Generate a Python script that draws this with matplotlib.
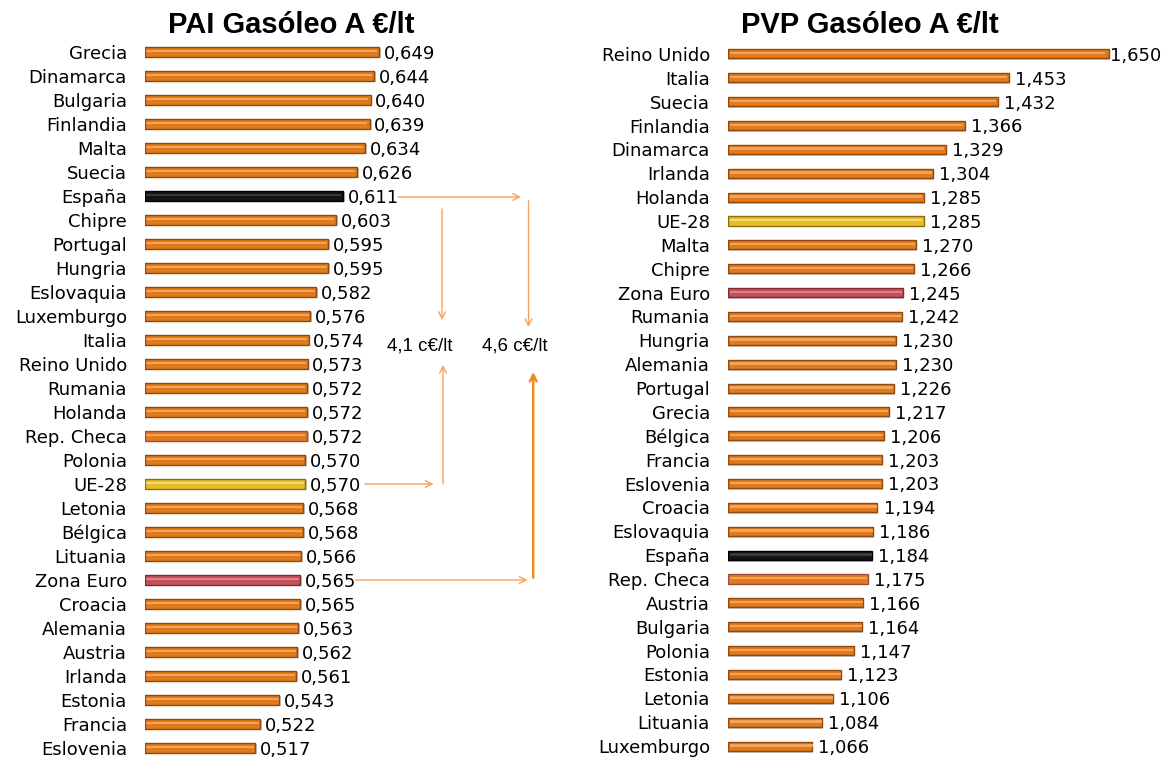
import matplotlib
matplotlib.use("Agg")
import matplotlib.pyplot as plt
import numpy as np

plt.rcParams['font.family'] = ['DejaVu Sans']

# PAI (precio antes de impuestos)
pai_paises = ['Grecia', 'Dinamarca', 'Bulgaria', 'Finlandia', 'Malta', 'Suecia', 'España',
              'Chipre', 'Portugal', 'Hungria', 'Eslovaquia', 'Luxemburgo', 'Italia',
              'Reino Unido', 'Rumania', 'Holanda', 'Rep. Checa', 'Polonia', 'UE-28',
              'Letonia', 'Bélgica', 'Lituania', 'Zona Euro', 'Croacia', 'Alemania',
              'Austria', 'Irlanda', 'Estonia', 'Francia', 'Eslovenia']
pai_valores = [0.649, 0.644, 0.640, 0.639, 0.634, 0.626, 0.611, 0.603, 0.595, 0.595,
               0.582, 0.576, 0.574, 0.573, 0.572, 0.572, 0.572, 0.570, 0.570, 0.568,
               0.568, 0.566, 0.565, 0.565, 0.563, 0.562, 0.561, 0.543, 0.522, 0.517]

# PVP (precio de venta al publico)
pvp_paises = ['Reino Unido', 'Italia', 'Suecia', 'Finlandia', 'Dinamarca', 'Irlanda',
              'Holanda', 'UE-28', 'Malta', 'Chipre', 'Zona Euro', 'Rumania', 'Hungria',
              'Alemania', 'Portugal', 'Grecia', 'Bélgica', 'Francia', 'Eslovenia',
              'Croacia', 'Eslovaquia', 'España', 'Rep. Checa', 'Austria', 'Bulgaria',
              'Polonia', 'Estonia', 'Letonia', 'Lituania', 'Luxemburgo']
pvp_valores = [1.650, 1.453, 1.432, 1.366, 1.329, 1.304, 1.285, 1.285, 1.270, 1.266,
               1.245, 1.242, 1.230, 1.230, 1.226, 1.217, 1.206, 1.203, 1.203, 1.194,
               1.186, 1.184, 1.175, 1.166, 1.164, 1.147, 1.123, 1.106, 1.084, 1.066]

# colores: (relleno, borde, brillo)
naranja = ('#E07A1C', '#8E4A10', '#F3A45A')
especiales = {
    'España': ('#141414', '#000000', '#3A3A3A'),
    'UE-28': ('#E8BC2A', '#8A7012', '#F6DC70'),
    'Zona Euro': ('#C4505A', '#7E2A30', '#DE8088'),
    'Rep. Checa': ('#E07A1C', '#A0503A', '#F3A45A'),
}

W, H = 1162, 760
fig = plt.figure(figsize=(W / 100, H / 100), dpi=100)


def px_axes(x0, top, width, height):
    return fig.add_axes([x0 / W, 1 - (top + height) / H, width / W, height / H])


def barras(ax, paises, valores, xmin, xmax, dx, borde=None):
    y = np.arange(len(paises))
    cols = [especiales.get(p, naranja) for p in paises]
    anchos = np.array(valores) - xmin
    # sombra
    ax.barh(y + 0.06, anchos + 0.002, left=xmin, height=0.42, color='#C8C8C8', zorder=1)
    ax.barh(y, anchos, left=xmin, height=0.38, color=[c[0] for c in cols],
            edgecolor=[c[1] for c in cols], linewidth=1.0, zorder=2)
    ax.barh(y - 0.03, anchos * 0.985, left=xmin + 0.004 * (xmax - xmin), height=0.1,
            color=[c[2] for c in cols], zorder=3)
    for yi, v in zip(y, valores):
        off = dx
        if borde is not None and v + dx > borde:
            off = 0.002  # pegada a la barra para que quepa
        ax.text(v + off, yi + 0.08, f'{v:.3f}'.replace('.', ','), va='center', ha='left',
                fontsize=13, color='black', zorder=4)
    ax.set_xlim(xmin, xmax)
    ax.set_ylim(len(paises) - 0.5, -0.5)
    ax.set_yticks(y)
    ax.set_yticklabels(paises, fontsize=13)
    ax.tick_params(axis='y', length=0, pad=13)
    ax.set_xticks([])
    for s in ax.spines.values():
        s.set_visible(False)
    ax.patch.set_alpha(0)


ax1 = px_axes(145, 40, 282, 720)
barras(ax1, pai_paises, pai_valores, 0.40, 0.70, 0.005)

ax2 = px_axes(728, 42, 432, 716)
barras(ax2, pvp_paises, pvp_valores, 0.90, 1.75, 0.012, borde=1.64)

fig.text(291 / W, 1 - 25 / H, 'PAI Gasóleo A €/lt', ha='center', va='center',
         fontsize=21, fontweight='bold', family='Liberation Sans')
fig.text(870 / W, 1 - 25 / H, 'PVP Gasóleo A €/lt', ha='center', va='center',
         fontsize=21, fontweight='bold', family='Liberation Sans')

# flechas de diferencia
claro = '#F5A35E'
fuerte = '#F08A24'


def flecha(x0, y0, x1, y1, color=claro, lw=1.0):
    ax1.annotate('', xy=(x1, y1), xytext=(x0, y0), annotation_clip=False,
                 arrowprops=dict(arrowstyle='->', color=color, lw=lw,
                                 shrinkA=0, shrinkB=0, mutation_scale=12))


flecha(0.669, 6.04, 0.800, 6.04)
flecha(0.808, 6.2, 0.808, 11.46)
flecha(0.716, 6.54, 0.716, 11.17)
flecha(0.717, 18.0, 0.717, 13.04)
flecha(0.634, 18.0, 0.707, 18.0)
flecha(0.813, 21.9, 0.813, 13.33, color=fuerte, lw=1.8)
flecha(0.624, 22.0, 0.807, 22.0)

ax1.text(0.692, 12.25, '4,1 c€/lt', ha='center', va='center', fontsize=13.5,
         clip_on=False, family='Liberation Sans')
ax1.text(0.793, 12.25, '4,6 c€/lt', ha='center', va='center', fontsize=13.5,
         clip_on=False, family='Liberation Sans')

fig.savefig('out.png', dpi=100)
